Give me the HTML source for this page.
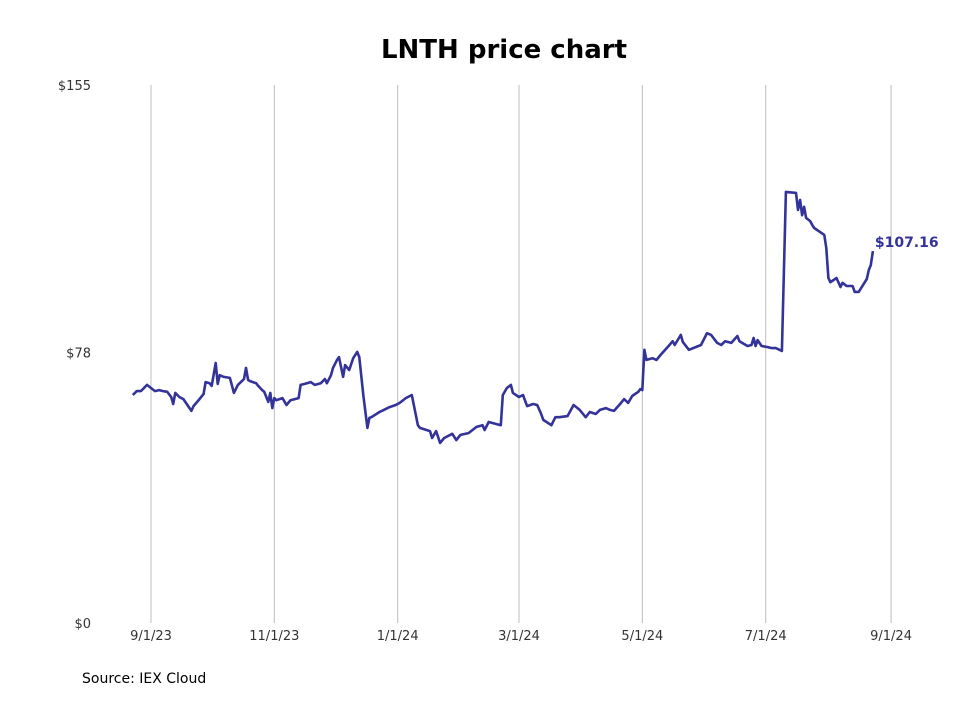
<!DOCTYPE html>
<html><head><meta charset="utf-8"><style>
body{margin:0;background:#fff;width:980px;height:699px;overflow:hidden;font-family:"Liberation Sans","DejaVu Sans",sans-serif}
</style></head><body>
<svg width="980" height="699" xmlns="http://www.w3.org/2000/svg">
<text x="504" y="58" text-anchor="middle" font-size="26" font-weight="bold" font-family="DejaVu Sans, Liberation Sans, sans-serif" fill="#000">LNTH price chart</text>
<g id="grid"></g>
<g id="yt"></g>
<g id="xt"></g>
<path id="line" fill="none" stroke="#333399" stroke-width="2.6" stroke-linejoin="round"/>
<text id="endlbl" font-size="14" font-weight="bold" font-family="DejaVu Sans, Liberation Sans, sans-serif" fill="#333399"></text>
<text x="82" y="683" font-size="14" font-family="DejaVu Sans, Liberation Sans, sans-serif" fill="#000">Source: IEX Cloud</text>
</svg>
<script>
// days since 2023-09-01
const days=[-9,-7,-5,-2,0,2,4,6,8,10,11,12,14,16,18,20,21,24,26,27,29,30,32,33,34,36,39,41,43,46,47,48,49,52,53,55,56,58,59,60,61,62,65,67,69,73,74,76,79,81,84,86,87,89,90,92,93,95,96,98,100,102,103,105,107,108,109,113,118,121,123,126,129,132,133,138,139,141,143,145,149,151,153,157,159,161,164,165,167,173,174,176,178,179,182,184,186,189,191,193,194,198,200,202,206,209,212,215,217,220,222,225,227,229,232,234,236,238,241,242,243,244,245,248,250,252,256,258,259,262,263,266,272,275,277,280,282,284,287,290,291,295,297,298,299,300,302,305,307,309,312,314,319,320,321,322,323,324,326,327,328,331,333,334,335,336,339,341,342,344,347,348,350,353,354,355,356,357];
const prices=[65.7,66.8,66.8,68.6,67.7,66.8,67.1,66.8,66.6,65.1,63.1,66.3,65.1,64.5,62.8,61.1,62.5,64.5,66.0,69.4,69.1,68.3,74.9,68.9,71.4,70.9,70.6,66.3,68.6,70.3,73.5,70.0,69.7,69.1,68.3,67.1,66.6,63.7,66.3,61.9,64.8,64.2,64.8,62.8,64.2,64.8,68.6,68.9,69.4,68.6,69.1,70.3,69.1,71.4,73.5,75.8,76.6,70.9,74.3,72.9,76.3,78.1,76.6,65.7,56.2,59.1,59.3,60.8,62.2,62.8,63.4,64.8,65.7,57.0,56.2,55.3,53.3,55.3,51.9,53.3,54.5,52.7,54.2,54.7,55.6,56.5,57.0,55.6,57.9,57.0,65.7,67.7,68.6,66.3,65.1,65.7,62.5,63.1,62.8,60.2,58.5,57.0,59.3,59.3,59.6,62.8,61.4,59.3,60.8,60.2,61.4,61.9,61.4,61.1,63.1,64.5,63.4,65.4,66.6,67.4,67.1,78.7,75.8,76.3,75.8,77.2,79.8,81.2,80.1,83.0,81.0,78.7,80.1,83.5,83.0,80.7,80.1,81.2,80.7,82.7,81.2,79.8,80.1,82.1,79.8,81.5,79.8,79.5,79.2,79.2,78.4,124.2,123.9,119.0,121.9,117.5,119.9,116.7,115.8,114.7,113.8,112.6,111.8,108.0,99.4,98.2,99.4,96.8,98.0,97.1,97.1,95.4,95.4,98.2,99.1,101.7,103.1,107.16];
const yTicks=[0,78,155];
const yTickLabels=["$0","$78","$155"];
const xTickDays=[0,61,122,182,243,304,366];
const xTickLabels=["9/1/23","11/1/23","1/1/24","3/1/24","5/1/24","7/1/24","9/1/24"];
const NS="http://www.w3.org/2000/svg";
const X=d=>151+d*2.022;
const Y=v=>623-v*538/155;
const grid=document.getElementById('grid'),yt=document.getElementById('yt'),xt=document.getElementById('xt');
xTickDays.forEach((d,i)=>{
  const l=document.createElementNS(NS,'line');
  l.setAttribute('x1',X(d));l.setAttribute('x2',X(d));l.setAttribute('y1',85);l.setAttribute('y2',623);
  l.setAttribute('stroke','#bdbdbd');l.setAttribute('stroke-width','1');
  
  
  grid.appendChild(l);
  const t=document.createElementNS(NS,'text');
  t.setAttribute('x',X(d));t.setAttribute('y',640);t.setAttribute('text-anchor','middle');
  t.setAttribute('font-size','13');t.setAttribute('fill','#333');
  t.setAttribute('font-family','DejaVu Sans, Liberation Sans, sans-serif');
  t.textContent=xTickLabels[i];
  
  
  xt.appendChild(t);
});
yTicks.forEach((v,i)=>{
  const t=document.createElementNS(NS,'text');
  t.setAttribute('x',91);t.setAttribute('y',Y(v)+5);t.setAttribute('text-anchor','end');
  t.setAttribute('font-size','13');t.setAttribute('fill','#333');
  t.setAttribute('font-family','DejaVu Sans, Liberation Sans, sans-serif');
  t.textContent=yTickLabels[i];
  
  
  yt.appendChild(t);
});
document.getElementById('line').setAttribute('d',days.map((d,i)=>(i?'L':'M')+X(d).toFixed(1)+','+Y(prices[i]).toFixed(1)).join(''));
const n=days.length-1,el=document.getElementById('endlbl');
el.setAttribute('x',X(days[n])+2);el.setAttribute('y',Y(prices[n])-4);
el.textContent='$'+prices[n].toFixed(2);
</script>
</body></html>
